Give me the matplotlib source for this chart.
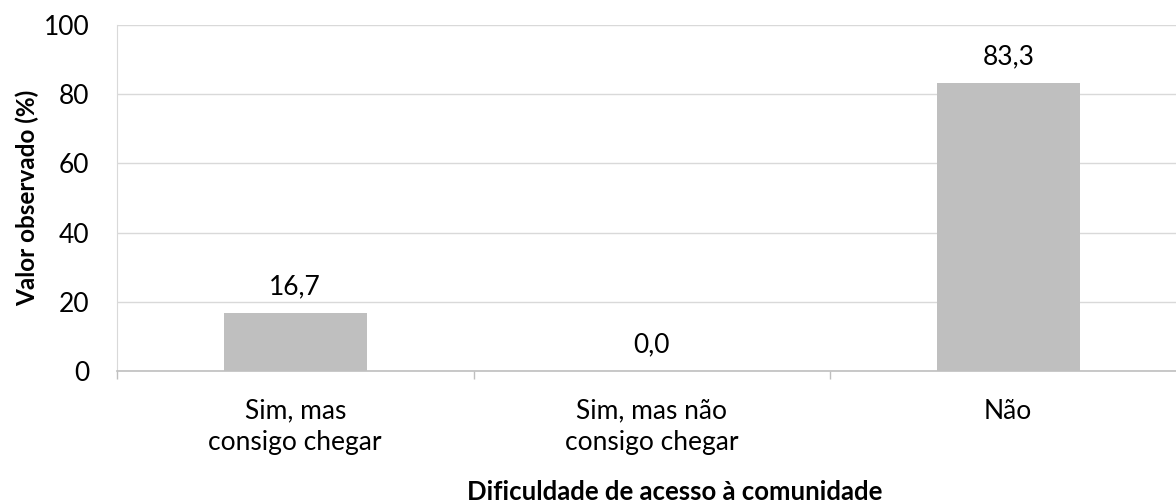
import numpy as np
import matplotlib.pyplot as plt
from matplotlib.ticker import FixedLocator

plt.rcParams['font.family'] = ['Lato', 'DejaVu Sans']

# 数据
categorias = ['Sim, mas\nconsigo chegar', 'Sim, mas não\nconsigo chegar', 'Não']
valores = [16.7, 0.0, 83.3]
rotulos = ['16,7', '0,0', '83,3']
yticks = [0, 20, 40, 60, 80, 100]

W, H = 1176, 504
fig = plt.figure(figsize=(W / 100, H / 100), dpi=100)
# eixo um pouco mais largo que a figura (a direita fica cortada)
ax = fig.add_axes([117 / W, (H - 371) / H, 1069.5 / W, 346 / H])

x = np.arange(len(categorias))
ax.bar(x, valores, width=0.4, color='#bfbfbf', zorder=3)

for xi, v, r in zip(x, valores, rotulos):
    ax.annotate(r, (xi, v), xytext=(0, 19), textcoords='offset points',
                ha='center', va='center', fontsize=19, color='#000000')

ax.set_xlim(-0.5, len(categorias) - 0.5)
ax.set_ylim(0, 100)
ax.set_yticks(yticks)
ax.set_yticklabels([str(t) for t in yticks])
ax.grid(axis='y', color='#d9d9d9', linewidth=1.0, zorder=0)

ax.set_xticks(x)
ax.set_xticklabels(categorias, fontsize=19, linespacing=1.3)
ax.xaxis.set_minor_locator(FixedLocator(np.arange(len(categorias) + 1) - 0.5))
ax.tick_params(axis='x', which='major', length=0, pad=20)
ax.tick_params(axis='x', which='minor', length=6, color='#bfbfbf', width=1)
ax.tick_params(axis='y', length=0, pad=20, labelsize=19)

for s in ['top', 'right']:
    ax.spines[s].set_visible(False)
ax.spines['left'].set_color('#d9d9d9')
ax.spines['bottom'].set_color('#bfbfbf')
ax.spines['bottom'].set_linewidth(1.2)

ax.set_ylabel('Valor observado (%)', fontsize=17.5, fontweight='bold', va='center')
ax.yaxis.set_label_coords(-0.084, 0.5)
ax.set_xlabel('Dificuldade de acesso à comunidade', fontsize=18.5,
              fontweight='bold', va='center')
ax.xaxis.set_label_coords((675 - 117) / 1069.5, -(492 - 371) / 346)

fig.savefig('out.png', dpi=100)
